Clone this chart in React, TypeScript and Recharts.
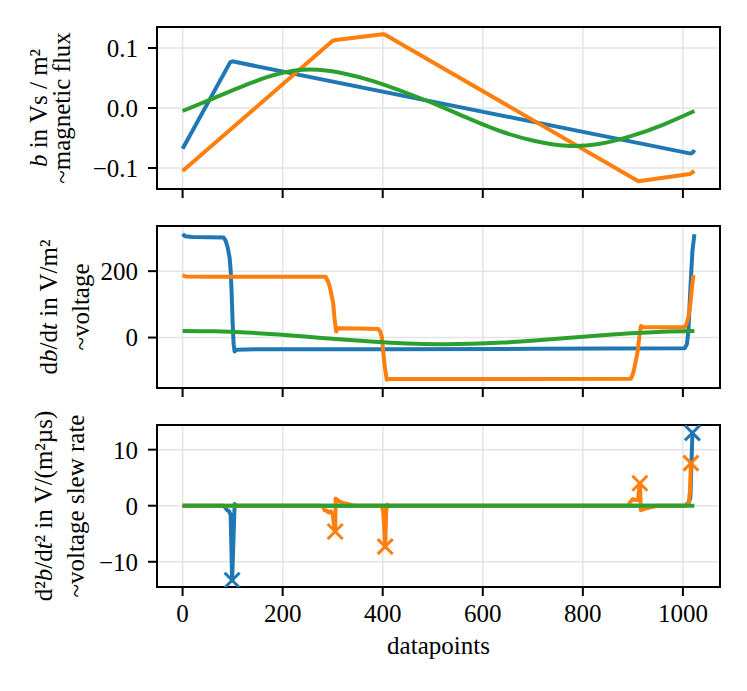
import React from 'react';
import { ComposedChart, Line, Scatter, XAxis, YAxis, CartesianGrid, ReferenceArea } from 'recharts';

// ---------- data (x = datapoint index, y = value) ----------
const X_DOMAIN: [number, number] = [-51.15, 1074.15];
const X_TICKS = [0, 200, 400, 600, 800, 1000];

// panel 1: b in Vs/m²
const fluxBlue = [[0, -0.068], [95, 0.076], [100, 0.078], [104, 0.077], [1016, -0.076], [1020, -0.074], [1023, -0.07]];
const fluxOrange = [[0, -0.105], [300, 0.112], [306, 0.1133], [400, 0.1228], [404, 0.1226], [911, -0.122], [1014, -0.11], [1023, -0.105]];
const fluxGreen = [[0, -0.005], [64, 0.017], [128, 0.039], [192, 0.057], [256, 0.064], [320, 0.058], [384, 0.044], [448, 0.025], [512, 0.004], [576, -0.019], [640, -0.04], [704, -0.055], [768, -0.063], [832, -0.06], [896, -0.047], [960, -0.028], [1023, -0.005]];
const FLUX_DOMAIN: [number, number] = [-0.135, 0.135];
const FLUX_TICKS = [-0.1, 0, 0.1];

// panel 2: db/dt in V/m²
const voltBlue = [[0, 312], [5, 305], [20, 303], [82, 301], [86, 292], [90, 272], [94, 240], [96, 205], [98, 135], [100, 45], [102, -20], [104, -42], [108, -37], [150, -35], [400, -35], [700, -34], [1004, -32], [1008, -20], [1011, 20], [1015, 150], [1019, 260], [1023, 311]];
const voltOrange = [[0, 188], [6, 184], [50, 183], [286, 183], [291, 168], [295, 148], [301, 103], [304, 53], [307, 18], [310, 28], [350, 27], [391, 26], [395, 18], [398, 3], [404, -87], [408, -127], [412, -125], [600, -125], [896, -124], [901, -105], [905, -77], [909, -47], [913, 3], [916, 35], [920, 31], [1003, 31], [1007, 40], [1011, 63], [1015, 103], [1019, 163], [1021, 188]];
const voltGreen = [[0, 20], [64, 19], [128, 15.2], [192, 9.1], [256, 1.6], [320, -6.2], [384, -13], [448, -17.8], [512, -19.9], [576, -19], [640, -15.2], [704, -9.1], [768, -1.6], [832, 6.2], [896, 13], [960, 17.8], [1023, 19.9]];
const VOLT_DOMAIN: [number, number] = [-152, 336];
const VOLT_TICKS = [0, 200];

// panel 3: d²b/dt² in V/(m²µs)
const slewBlue = [[0, 0], [82, 0], [86, -0.4], [89, -0.8], [93, -1.0], [96, -1.6], [99, -13.3], [104, 0.3], [108, 0], [1004, 0], [1008, 0.3], [1012, 0.6], [1015, 1.5], [1019, 13.0]];
const slewOrange = [[0, 0], [270, 0], [280, -0.1], [284, -0.8], [288, -0.9], [292, -1.2], [296, -1.0], [300, -1.5], [302, -3], [305, -4.6], [306, 1.3], [310, 1.0], [315, 0.7], [320, 0.5], [330, 0.3], [340, 0.1], [350, 0], [398, 0], [401, -1], [403, -4], [405, -7.3], [407, -1], [409, 0.2], [412, 0], [890, 0], [895, 0.7], [900, 1.2], [905, 1.0], [910, 1.0], [914, 4.0], [916, -0.8], [925, -0.5], [935, -0.3], [950, 0], [1005, 0], [1009, 0.3], [1012, 0.8], [1014, 2.5], [1016, 7.6]];
const slewGreen = [[0, 0], [256, 0], [512, 0], [768, 0], [1023, 0]];
const slewBlueMarks = [[99, -13.3], [1019, 13.0]];
const slewOrangeMarks = [[305, -4.6], [405, -7.3], [914, 4.0], [1016, 7.6]];
const SLEW_DOMAIN: [number, number] = [-14.5, 14.4];
const SLEW_TICKS = [-10, 0, 10];

// ---------- styling ----------
const BLUE = '#1f77b4';
const ORANGE = '#ff7f0e';
const GREEN = '#2ca02c';
const FONT = "'Liberation Serif', 'Times New Roman', Times, serif";
const FS = 25;
const GRID = '#e4e4e4';
const LW = 4;

const toPts = (a: number[][]) => a.map(([x, y]) => ({ x, y }));
const minus = (s: string) => s.replace('-', '\u2212');

const XTick = (props: any) => {
  const { x, y, payload } = props;
  return (
    <text x={x} y={y} dy="0.71em" textAnchor="middle" fontFamily={FONT} fontSize={FS} fill="#000">
      {minus(String(payload.value))}
    </text>
  );
};

const makeYTick = (fmt: (v: number) => string) => (props: any) => {
  const { x, y, payload } = props;
  return (
    <text x={x} y={y} dy="0.355em" textAnchor="end" fontFamily={FONT} fontSize={FS} fill="#000">
      {fmt(payload.value)}
    </text>
  );
};

const XMark = (color: string) => (props: any) => {
  const { cx, cy } = props;
  const s = 7.5;
  return (
    <g>
      <line x1={cx - s} y1={cy - s} x2={cx + s} y2={cy + s} stroke={color} strokeWidth={3} />
      <line x1={cx - s} y1={cy + s} x2={cx + s} y2={cy - s} stroke={color} strokeWidth={3} />
    </g>
  );
};

const makeYLabel = (line1: React.ReactNode, line2: React.ReactNode, b1: number, b2: number) => (props: any) => {
  const vb = props.viewBox || { x: 0, y: 0, width: 0, height: 0 };
  const cy = vb.y + vb.height / 2;
  const common = { fontFamily: FONT, fontSize: FS, fill: '#000', textAnchor: 'middle' as const };
  return (
    <g>
      <text x={b1} y={cy} transform={`rotate(-90 ${b1} ${cy})`} {...common}>{line1}</text>
      <text x={b2} y={cy} transform={`rotate(-90 ${b2} ${cy})`} {...common}>{line2}</text>
    </g>
  );
};

const xLabel = (props: any) => {
  const vb = props.viewBox || { x: 0, y: 0, width: 0, height: 0 };
  return (
    <text x={vb.x + vb.width / 2} y={vb.y + 67} fontFamily={FONT} fontSize={FS} fill="#000" textAnchor="middle">
      datapoints
    </text>
  );
};

const I = ({ children }: { children: React.ReactNode }) => <tspan fontStyle="italic">{children}</tspan>;

type PanelProps = {
  top: number;
  height: number;
  marginTop: number;
  xAxisHeight: number;
  showXLabels: boolean;
  yDomain: [number, number];
  yTicks: number[];
  yFmt: (v: number) => string;
  yLabel: (p: any) => React.ReactNode;
  lines: { data: number[][]; color: string; curve: 'linear' | 'natural' }[];
  marks?: { data: number[][]; color: string }[];
};

const Panel = (p: PanelProps) => (
  <div style={{ position: 'absolute', left: 0, top: p.top, width: 747, height: p.height, fontFamily: FONT, fontSize: FS }}>
    <ComposedChart
      width={747}
      height={p.height}
      margin={{ top: p.marginTop, right: 27, bottom: 0, left: 0 }}
      style={{ fontFamily: FONT, fontSize: FS }}
    >
      <CartesianGrid stroke={GRID} strokeWidth={1.5} horizontalValues={p.yTicks} verticalValues={X_TICKS} />
      <XAxis
        dataKey="x"
        type="number"
        domain={X_DOMAIN}
        ticks={X_TICKS}
        allowDataOverflow
        height={p.xAxisHeight}
        axisLine={false}
        tickLine={{ stroke: '#000', strokeWidth: 2 }}
        tickSize={9}
        tickMargin={8}
        tick={p.showXLabels ? XTick : () => <g />}
        interval={0}
        label={p.showXLabels ? { content: xLabel } : undefined}
      />
      <YAxis
        dataKey="y"
        type="number"
        domain={p.yDomain}
        ticks={p.yTicks}
        allowDataOverflow
        width={157}
        axisLine={false}
        tickLine={{ stroke: '#000', strokeWidth: 2 }}
        tickSize={9}
        tickMargin={10}
        tick={makeYTick(p.yFmt)}
        interval={0}
        label={{ content: p.yLabel }}
      />
      {p.lines.map((l, i) => (
        <Line
          key={i}
          data={toPts(l.data)}
          dataKey="y"
          type={l.curve}
          stroke={l.color}
          strokeWidth={LW}
          dot={false}
          activeDot={false}
          isAnimationActive={false}
          strokeLinejoin="round"
          strokeLinecap="butt"
        />
      ))}
      {(p.marks || []).map((m, i) => (
        <Scatter key={'m' + i} data={toPts(m.data)} dataKey="y" shape={XMark(m.color)} isAnimationActive={false} />
      ))}
      <ReferenceArea
        x1={X_DOMAIN[0]}
        x2={X_DOMAIN[1]}
        y1={p.yDomain[0]}
        y2={p.yDomain[1]}
        fill="none"
        fillOpacity={0}
        stroke="#000"
        strokeWidth={2}
        ifOverflow="visible"
      />
    </ComposedChart>
  </div>
);

export default function App() {
  return (
    <div style={{ position: 'absolute', left: 0, top: 0, width: 747, height: 691, background: '#fff', fontFamily: FONT }}>
      <Panel
        top={0}
        height={200}
        marginTop={27}
        xAxisHeight={11}
        showXLabels={false}
        yDomain={FLUX_DOMAIN}
        yTicks={FLUX_TICKS}
        yFmt={(v) => minus(v.toFixed(1))}
        yLabel={makeYLabel(<><I>b</I> in Vs / m²</>, <>~magnetic flux</>, 46.5, 70)}
        lines={[
          { data: fluxBlue, color: BLUE, curve: 'linear' },
          { data: fluxOrange, color: ORANGE, curve: 'linear' },
          { data: fluxGreen, color: GREEN, curve: 'natural' },
        ]}
      />
      <Panel
        top={200}
        height={200}
        marginTop={26}
        xAxisHeight={12}
        showXLabels={false}
        yDomain={VOLT_DOMAIN}
        yTicks={VOLT_TICKS}
        yFmt={(v) => minus(String(v))}
        yLabel={makeYLabel(<>d<I>b</I>/d<I>t</I> in V/m²</>, <>~voltage</>, 56.5, 89)}
        lines={[
          { data: voltBlue, color: BLUE, curve: 'linear' },
          { data: voltOrange, color: ORANGE, curve: 'linear' },
          { data: voltGreen, color: GREEN, curve: 'natural' },
        ]}
      />
      <Panel
        top={400}
        height={291}
        marginTop={25}
        xAxisHeight={104}
        showXLabels={true}
        yDomain={SLEW_DOMAIN}
        yTicks={SLEW_TICKS}
        yFmt={(v) => minus(String(v))}
        yLabel={makeYLabel(<>d²<I>b</I>/d<I>t</I>² in V/(m²µs)</>, <>~voltage slew rate</>, 52, 84)}
        lines={[
          { data: slewBlue, color: BLUE, curve: 'linear' },
          { data: slewOrange, color: ORANGE, curve: 'linear' },
          { data: slewGreen, color: GREEN, curve: 'linear' },
        ]}
        marks={[
          { data: slewBlueMarks, color: BLUE },
          { data: slewOrangeMarks, color: ORANGE },
        ]}
      />
    </div>
  );
}
